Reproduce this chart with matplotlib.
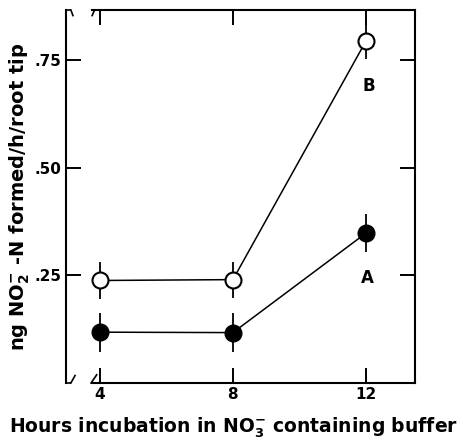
import matplotlib
matplotlib.use('Agg')
import matplotlib.pyplot as plt

plt.rcParams['font.family'] = 'DejaVu Sans'
plt.rcParams['font.weight'] = 'bold'
plt.rcParams['mathtext.fontset'] = 'custom'
plt.rcParams['mathtext.bf'] = 'DejaVu Sans:bold'
plt.rcParams['mathtext.rm'] = 'DejaVu Sans:bold'
plt.rcParams['mathtext.default'] = 'bf'

hours = [4, 8, 12]
b_vals = [0.238, 0.240, 0.794]   # open circles (B)
a_vals = [0.118, 0.117, 0.348]   # filled circles (A)
b_err = [0.042, 0.042, 0.042]
a_err = [0.045, 0.045, 0.045]
yticks = [0.25, 0.50, 0.75]
ytick_labels = ['.25', '.50', '.75']

fig = plt.figure(figsize=(4.63, 4.44), dpi=100)
ax = fig.add_axes([0.1425, 0.1374, 0.7535, 0.8401])

ax.errorbar(hours, b_vals, yerr=b_err, fmt='o-', color='black', mfc='white',
            mec='black', mew=1.5, ms=11.5, lw=1.1, elinewidth=1.3, capsize=0, zorder=3)
ax.errorbar(hours, a_vals, yerr=a_err, fmt='o-', color='black', mfc='black',
            mec='black', ms=12, lw=1.1, elinewidth=1.3, capsize=0, zorder=3)

ax.text(12.1, 0.69, 'B', ha='center', va='center', fontsize=12, fontweight='bold')
ax.text(12.05, 0.243, 'A', ha='center', va='center', fontsize=12, fontweight='bold')

ax.set_xlim(2.98, 13.47)
ax.set_ylim(0, 0.866)
ax.set_xticks(hours)
ax.set_xticklabels([str(h) for h in hours], fontsize=11, fontweight='bold')
ax.set_yticks(yticks)
ax.set_yticklabels(ytick_labels, fontsize=11, fontweight='bold')
ax.tick_params(direction='in', length=11, width=1.4, top=True, right=True, pad=3)

for s in ax.spines.values():
    s.set_linewidth(1.5)
# axis break near the origin / top-left corner
ax.spines['bottom'].set_bounds(3.75, 13.47)
ax.spines['top'].set_bounds(3.75, 13.47)
kw = dict(transform=ax.transAxes, color='black', lw=1.2, clip_on=False)
ax.plot([0, 0.012], [0, 0], **kw)
ax.plot([0.014, 0.026], [0, 0.02], **kw)
ax.plot([0.072, 0.088], [0, 0.022], **kw)
ax.plot([0, 0.012], [1, 1], **kw)
ax.plot([0.014, 0.02], [1, 0.985], **kw)
ax.plot([0.075, 0.082], [0.985, 1], **kw)

ax.set_xlabel('Hours incubation in NO$_3^{-}$ containing buffer', fontsize=13.5,
              fontweight='bold')
ax.xaxis.set_label_coords(0.481, -0.086)
ax.set_ylabel('ng NO$_2^{-}$ -N formed/h/root tip', fontsize=14,
              fontweight='bold')
ax.yaxis.set_label_coords(-0.097, 0.5)

plt.savefig('out.png', dpi=100)
plt.close()
